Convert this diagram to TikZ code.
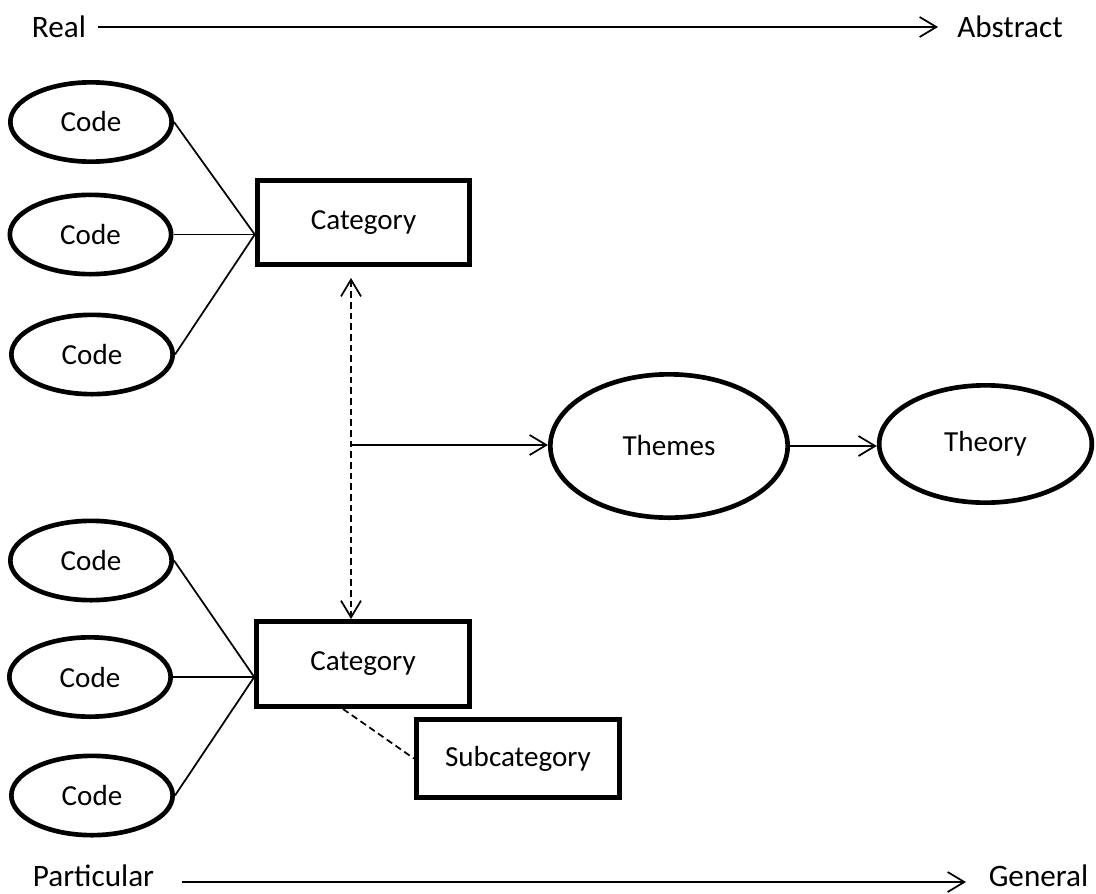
\documentclass[tikz,border=0pt]{standalone}
\usepackage{fontspec}
\setmainfont{Carlito}
\usetikzlibrary{shapes.geometric,arrows.meta,calc}
\begin{document}
\begin{tikzpicture}[x=0.75pt,y=-0.75pt,
  nodefont/.style={font=\fontsize{21.8}{26}\selectfont},
  axisfont/.style={font=\fontsize{23.4}{28}\selectfont, inner sep=0pt, anchor=base},
  codeell/.style={ellipse, draw, line width=3.5pt, inner sep=0pt, nodefont,
    minimum width=121pt, minimum height=59.5pt},
  bigell/.style={ellipse, draw, line width=3.5pt, inner sep=0pt, nodefont},
  catbox/.style={rectangle, draw, line width=3.6pt, inner sep=0pt, nodefont,
    minimum width=159.5pt, minimum height=63.5pt},
  subbox/.style={rectangle, draw, line width=3.6pt, inner sep=0pt, nodefont,
    minimum width=152.5pt, minimum height=58.5pt},
  link/.style={line width=1.3pt},
  dlink/.style={line width=1.3pt, dash pattern=on 5pt off 3pt},
  tip/.style={-{Straight Barb[length=12.5pt,width=15pt,line width=1.3pt]}},
  tips/.style={{Straight Barb[length=12.5pt,width=15pt,line width=1.3pt]}-{Straight Barb[length=12.5pt,width=15pt,line width=1.3pt]}}
]
\useasboundingbox (0,0) rectangle (1096,893);

% axes
\node[axisfont] (real) at (59,37) {Real};
\node[axisfont] (abstract) at (1010,37) {Abstract};
\node[axisfont] (particular) at (93.5,886) {Particular};
\node[axisfont] (general) at (1038.5,886) {General};
\coordinate (ra) at (98,27);
\coordinate (rb) at (938,27);
\coordinate (pa) at (182,882);
\coordinate (pb) at (966,882);
\draw[link,tip] (ra) -- (rb);
\draw[link,tip] (pa) -- (pb);

% top group
\node[codeell] (c1) at (91,122) {Code};
\node[codeell] (c2) at (90.5,234.5) {Code};
\node[codeell] (c3) at (92,354.5) {Code};
\node[catbox] (cat1) at (363.5,222.5) {Category};
\draw[link] (c1.east) -- (cat1.west |- c2.east);
\draw[link] (c2.east) -- (cat1.west |- c2.east);
\draw[link] (c3.east) -- (cat1.west |- c2.east);

% bottom group
\node[codeell] (c4) at (91,560.5) {Code};
\node[codeell] (c5) at (90,677) {Code};
\node[codeell] (c6) at (92,795.5) {Code};
\node[catbox] (cat2) at (363,664) {Category};
\node[subbox] (sub) at (518,758.5) {Subcategory};
\draw[link] (c4.east) -- (cat2.west |- c5.east);
\draw[link] (c5.east) -- (cat2.west |- c5.east);
\draw[link] (c6.east) -- (cat2.west |- c5.east);
\coordinate (ds) at (343,709);
\draw[dlink] (ds) -- (sub.west);

% themes and theory
\node[bigell, minimum width=178pt, minimum height=107.5pt] (themes) at (669,446) {Themes};
\node[bigell, minimum width=159.5pt, minimum height=88pt] (theory) at (985.5,444) {Theory};
\coordinate (dtop) at (351,278);
\coordinate (dbot) at (351,619);
\coordinate (mid) at (351,445);
\draw[dlink,tips] (dtop) -- (dbot);
\draw[link,tip] (mid) -- (themes.west |- mid);
\draw[link,tip] (themes.east) -- (theory.west |- themes.east);
\end{tikzpicture}
\end{document}
